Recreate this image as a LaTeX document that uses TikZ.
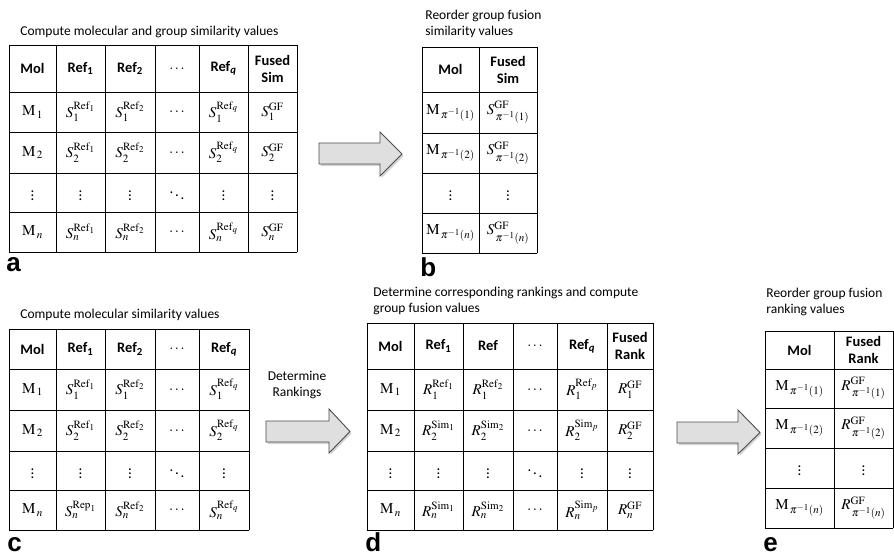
\documentclass[tikz,border=0pt]{standalone}
\usepackage{mathptmx}
\usepackage[no-math]{fontspec}
\setmainfont{Carlito}
\newfontfamily\lblfont{Liberation Sans}
\usetikzlibrary{shadows}

\tikzset{
  hd/.style={font=\bfseries\fontsize{14.5}{17}\selectfont,align=center},
  cl/.style={font=\fontsize{15}{16}\selectfont},
  ttl/.style={font=\fontsize{13.5}{16}\selectfont,anchor=west,align=left},
  lbl/.style={font=\lblfont\bfseries\fontsize{26}{26}\selectfont,anchor=base west,inner sep=0pt},
  bigarrow/.style={fill=gray!25,draw=black!70,line width=0.9pt,
    drop shadow={opacity=0.35,shadow xshift=1.5pt,shadow yshift=-2pt}}
}

\begin{document}
\begin{tikzpicture}[x=1pt,y=-1pt,line width=0.8pt,line cap=rect]
\useasboundingbox (0,0) rectangle (894,555);
\tikzstyle{every node}=[inner sep=1pt]
\newcommand{\pinv}[1]{\,\pi^{-1}(#1)}
% titles
\node[ttl] (t_a) at (19,32) {Compute molecular and group similarity values};
\node[ttl] (t_b) at (424,24) {Reorder group fusion\\similarity values};
\node[ttl] (t_c) at (19,315) {Compute molecular similarity values};
\node[ttl] (t_d) at (372,301) {Determine corresponding rankings and compute\\group fusion values};
\node[ttl] (t_e) at (765,302) {Reorder group fusion\\ranking values};
\node[ttl,anchor=center,align=center] (t_r) at (297,385) {Determine\\Rankings};
% table a
\foreach \x in {9,56,105,155,199,248,297} \draw (\x,45) -- (\x,252);
\foreach \y in {45,92,132,173,212,252} \draw (9,\y) -- (297,\y);
\foreach \x/\t [count=\i] in {32.5/Mol,80.5/Ref\textsubscript{1},130/Ref\textsubscript{2},177/{\mdseries$\dots$},223.5/Ref\textsubscript{\itshape q},272.5/{Fused\\Sim}}
  \node[hd] (a_h\i) at (\x,68.5) {\t};
\foreach \r/\y in {1/112,2/152.5,n/232} {
  \node[cl] (a_m\r) at (32.5,\y) {$\mathrm{M}_{\,\r}$};
  \node[cl] (a_p\r) at (80.5,\y) {$S_{\r}^{\mathrm{Ref}_1}$};
  \node[cl] (a_q\r) at (130,\y) {$S_{\r}^{\mathrm{Ref}_2}$};
  \node[cl] (a_d\r) at (177,\y) {$\dots$};
  \node[cl] (a_s\r) at (223.5,\y) {$S_{\r}^{\mathrm{Ref}_q}$};
  \node[cl] (a_f\r) at (272.5,\y) {$S_{\r}^{\mathrm{GF}}$};
}
\foreach \x [count=\i] in {32.5,80.5,130,223.5,272.5} \node[cl] (a_v\i) at (\x,192.5) {$\vdots$};
\node[cl] (a_dd) at (177,192.5) {$\ddots$};
\node[lbl] (l_a) at (6,271) {a};
% table b
\foreach \x in {422,479,537} \draw (\x,47) -- (\x,253);
\foreach \y in {47,92,133,173,213,253} \draw (422,\y) -- (537,\y);
\node[hd] (b_h1) at (450.5,69.5) {Mol};
\node[hd] (b_h2) at (508,69.5) {Fused\\Sim};
\foreach \r/\y in {1/112.5,2/153,n/233} {
  \node[cl] (b_m\r) at (450.5,\y) {$\mathrm{M}_{\pinv{\r}}$};
  \node[cl] (b_f\r) at (508,\y) {$S^{\mathrm{GF}}_{\pinv{\r}}$};
}
\node[cl] (b_v1) at (450.5,193) {$\vdots$};
\node[cl] (b_v2) at (508,193) {$\vdots$};
\node[lbl] (l_b) at (420,276) {b};
% arrow a -> b
\draw[bigarrow] (319,143) -- (380,143) -- (380,132) -- (402,154) -- (380,176) -- (380,164) -- (319,164) -- cycle;
% table c
\foreach \x in {9,56,105,155,199,249} \draw (\x,329) -- (\x,530);
\foreach \y in {329,369,410,451,490,530} \draw (9,\y) -- (249,\y);
\foreach \x/\t [count=\i] in {32.5/Mol,80.5/Ref\textsubscript{1},130/Ref\textsubscript{2},177/{\mdseries$\dots$},224/Ref\textsubscript{\itshape q}}
  \node[hd] (c_h\i) at (\x,349) {\t};
\foreach \r/\y/\u in {1/389.5/Ref,2/430.5/Ref,n/510/Rep} {
  \node[cl] (c_m\r) at (32.5,\y) {$\mathrm{M}_{\,\r}$};
  \node[cl] (c_p\r) at (80.5,\y) {$S_{\r}^{\mathrm{\u}_1}$};
  \node[cl] (c_q\r) at (130,\y) {$S_{\r}^{\mathrm{Ref}_2}$};
  \node[cl] (c_d\r) at (177,\y) {$\dots$};
  \node[cl] (c_s\r) at (224,\y) {$S_{\r}^{\mathrm{Ref}_q}$};
}
\foreach \x [count=\i] in {32.5,80.5,130,224} \node[cl] (c_v\i) at (\x,470.5) {$\vdots$};
\node[cl] (c_dd) at (177,470.5) {$\ddots$};
\node[lbl] (l_c) at (7,551) {c};
% arrow c -> d
\draw[bigarrow] (266,421) -- (329,421) -- (329,409) -- (350,431.5) -- (329,453) -- (329,442) -- (266,442) -- cycle;
% table d
\foreach \x in {367,414,463,513,557,607,653} \draw (\x,323) -- (\x,530);
\foreach \y in {323,369,410,451,490,530} \draw (367,\y) -- (653,\y);
\foreach \x/\t [count=\i] in {390.5/Mol,438.5/Ref\textsubscript{1},488/Ref,535/{\mdseries$\dots$},582/Ref\textsubscript{\itshape q},630/{Fused\\Rank}}
  \node[hd] (d_h\i) at (\x,346) {\t};
\foreach \r/\y/\u in {1/389.5/Ref,2/430.5/Sim,n/510/Sim} {
  \node[cl] (d_m\r) at (390.5,\y) {$\mathrm{M}_{\,\r}$};
  \node[cl] (d_p\r) at (438.5,\y) {$R_{\r}^{\mathrm{\u}_1}$};
  \node[cl] (d_q\r) at (488,\y) {$R_{\r}^{\mathrm{\u}_2}$};
  \node[cl] (d_d\r) at (535,\y) {$\dots$};
  \node[cl] (d_s\r) at (582,\y) {$R_{\r}^{\mathrm{\u}_p}$};
  \node[cl] (d_f\r) at (630,\y) {$R_{\r}^{\mathrm{GF}}$};
}
\foreach \x [count=\i] in {390.5,438.5,488,582,630} \node[cl] (d_v\i) at (\x,470.5) {$\vdots$};
\node[cl] (d_dd) at (535,470.5) {$\ddots$};
\node[lbl] (l_d) at (365,551) {d};
% arrow d -> e
\draw[bigarrow] (677,422) -- (738,422) -- (738,410) -- (760,432.5) -- (738,454) -- (738,443) -- (677,443) -- cycle;
% table e
\foreach \x in {765,834,893} \draw (\x,331) -- (\x,528);
\foreach \y in {331,369,408,448,488,528} \draw (765,\y) -- (893,\y);
\node[hd] (e_h1) at (799.5,350) {Mol};
\node[hd] (e_h2) at (863.5,350) {Fused\\Rank};
\foreach \r/\y in {1/388.5,2/428,n/508} {
  \node[cl] (e_m\r) at (799.5,\y) {$\mathrm{M}_{\pinv{\r}}$};
  \node[cl] (e_f\r) at (863.5,\y) {$R^{\mathrm{GF}}_{\pinv{\r}}$};
}
\node[cl] (e_v1) at (799.5,468) {$\vdots$};
\node[cl] (e_v2) at (863.5,468) {$\vdots$};
\node[lbl] (l_e) at (763,551) {e};
\end{tikzpicture}
\end{document}
